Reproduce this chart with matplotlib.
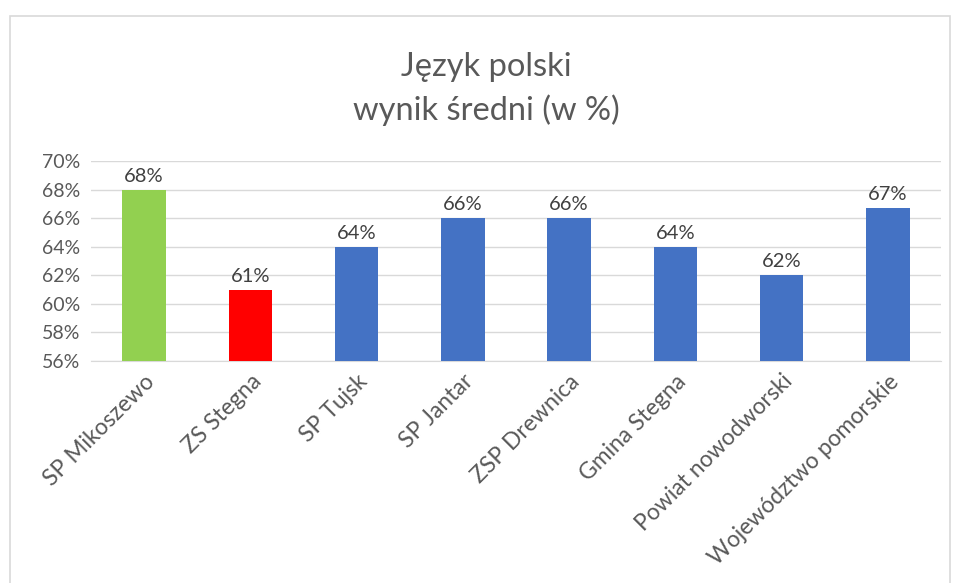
import matplotlib.pyplot as plt
from matplotlib.patches import Rectangle

categories = ["SP Mikoszewo", "ZS Stegna", "SP Tujsk", "SP Jantar", "ZSP Drewnica",
              "Gmina Stegna", "Powiat nowodworski", "Województwo pomorskie"]
values = [68, 61, 64, 66, 66, 64, 62, 66.7]
colors = ["#92d050", "#ff0000", "#4472c4", "#4472c4", "#4472c4", "#4472c4", "#4472c4", "#4472c4"]
yticks = [56, 58, 60, 62, 64, 66, 68, 70]

plt.rcParams['font.family'] = ['Lato', 'DejaVu Sans']
text_color = "#595959"

fig = plt.figure(figsize=(9.58, 5.83), dpi=100)
ax = fig.add_axes([91 / 958, 1 - 361 / 583, 850 / 958, 200 / 583])

# chart border
fig.patches.append(Rectangle((10 / 958, -0.1), 940 / 958, 1.1 - 16 / 583,
                             transform=fig.transFigure, fill=False,
                             edgecolor="#d9d9d9", linewidth=1.2))

x = range(len(categories))
bars = ax.bar(x, values, width=0.41, color=colors, zorder=3)
ax.set_ylim(56, 70)
ax.set_xlim(-0.5, len(categories) - 0.5)
ax.set_yticks(yticks)
ax.set_yticklabels([f"{v}%" for v in yticks], fontsize=14, color=text_color)
ax.yaxis.grid(True, color="#d9d9d9", linewidth=1, zorder=0)
ax.tick_params(axis="y", length=0, pad=8)
ax.tick_params(axis="x", length=0, pad=7)
ax.set_xticks(list(x))
ax.set_xticklabels(categories, rotation=45, ha="right", rotation_mode="anchor",
                   fontsize=16.5, color=text_color)
for s in ["top", "right", "left"]:
    ax.spines[s].set_visible(False)
ax.spines["bottom"].set_color("#d9d9d9")

for b, v in zip(bars, values):
    ax.text(b.get_x() + b.get_width() / 2, v + 0.35, f"{round(v)}%",
            ha="center", va="bottom", fontsize=14.5, color="#404040")

fig.text(486 / 958, 1 - 67 / 583, "Język polski", ha="center", va="center",
         fontsize=23.5, color=text_color)
fig.text(486 / 958, 1 - 110 / 583, "wynik średni (w %)", ha="center", va="center",
         fontsize=23.5, color=text_color)

fig.savefig("out.png", dpi=100)
